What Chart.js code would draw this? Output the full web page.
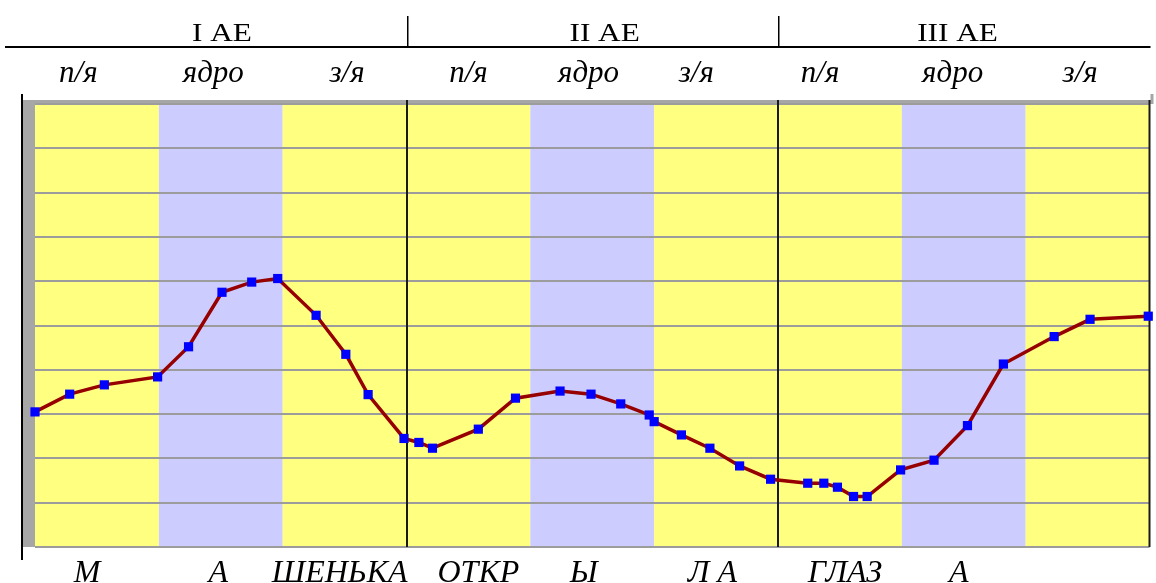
<!DOCTYPE html>
<html lang="ru">
  <head>
    <meta charset="UTF-8" />
    <title>Мелодический контур</title>
    <style>
      html, body {
        margin: 0;
        padding: 0;
        background: #ffffff;
        overflow: hidden;
      }
      .chart-box {
        position: relative;
        width: 1156px;
        height: 583px;
      }
    </style>
    <script src="https://cdn.jsdelivr.net/npm/chart.js"></script>
  </head>
  <body>
    <div class="chart-box">
      <canvas id="contour"></canvas>
    </div>

    <script>
      // Measurement positions along the phrase (one unit = one zone) and tone level
      const pointPos = [
        0, 0.28, 0.56, 0.99, 1.24, 1.51, 1.75, 1.96, 2.27, 2.51, 2.69, 2.98,
        3.1, 3.21, 3.58, 3.88, 4.24, 4.49, 4.73, 4.96, 5.0, 5.22, 5.45, 5.69,
        5.94, 6.24, 6.37, 6.48, 6.61, 6.72, 6.99, 7.26, 7.53, 7.82, 8.23, 8.52,
        8.99,
      ];
      const toneLevel = [
        3.05, 3.45, 3.66, 3.84, 4.52, 5.75, 5.98, 6.06, 5.23, 4.35, 3.44, 2.45,
        2.36, 2.23, 2.66, 3.36, 3.52, 3.45, 3.23, 2.98, 2.83, 2.53, 2.23, 1.83,
        1.53, 1.44, 1.44, 1.35, 1.14, 1.14, 1.74, 1.96, 2.74, 4.13, 4.75, 5.14,
        5.21,
      ];

      // Accent units and their zones
      const unitLabels = ["I АЕ", "II АЕ", "III АЕ"];
      const unitTicks = [1.51, 4.6, 7.45];
      const unitBounds = [3, 6];
      const zoneLabels = ["п/я", "ядро", "з/я", "п/я", "ядро", "з/я", "п/я", "ядро", "з/я"];
      const zoneTicks = [0.35, 1.44, 2.52, 3.5, 4.47, 5.34, 6.34, 7.41, 8.44];
      const nucleusZones = [1, 4, 7];

      // Syllables of the phrase under the curve
      const wordLabels = ["М", "А", "ШЕНЬКА", "ОТКР", "Ы", "Л А", "ГЛАЗ", "А"];
      const wordTicks = [0.42, 1.48, 2.46, 3.58, 4.43, 5.47, 6.54, 7.46];

      const YELLOW = "#ffff80";
      const LAVENDER = "#ccccff";

      // Zone backgrounds, the left wall and the frame of the plot
      const backdrop = {
        id: "backdrop",
        beforeDraw(chart) {
          const { ctx, chartArea: a, scales } = chart;
          const x = scales.x;
          ctx.save();
          ctx.fillStyle = "#ffffff";
          ctx.fillRect(0, 0, chart.width, chart.height);
          for (let i = 0; i < zoneLabels.length; i++) {
            const x0 = x.getPixelForValue(i);
            const x1 = x.getPixelForValue(i + 1);
            ctx.fillStyle = nucleusZones.includes(i) ? LAVENDER : YELLOW;
            ctx.fillRect(x0, a.top, x1 - x0, a.bottom - a.top);
          }
          // grey wall on the left and along the top
          ctx.fillStyle = "#a6a6a6";
          ctx.fillRect(a.left - 12, a.top - 4, 12, a.bottom - a.top + 4);
          ctx.fillRect(a.left - 12, a.top - 4, a.right - a.left + 14, 4);
          ctx.fillRect(a.right + 1, a.top - 10, 3, 10);
          // black axis line
          ctx.fillStyle = "#000000";
          ctx.fillRect(a.left - 14, a.top - 10, 2, a.bottom - a.top + 23);
          ctx.restore();
        },
        beforeDatasetsDraw(chart) {
          const { ctx, chartArea: a, scales } = chart;
          ctx.save();
          ctx.strokeStyle = "#1a1a1a";
          ctx.lineWidth = 2;
          ctx.beginPath();
          unitBounds.forEach((b) => {
            const px = Math.round(scales.x.getPixelForValue(b));
            ctx.moveTo(px, a.top - 4);
            ctx.lineTo(px, a.bottom);
          });
          ctx.moveTo(a.right, a.top - 4);
          ctx.lineTo(a.right, a.bottom);
          ctx.stroke();
          ctx.restore();
        },
      };

      // Header rows (accent units, zones) and syllables below the plot
      const captions = {
        id: "captions",
        afterDraw(chart) {
          const { ctx, chartArea: a, scales } = chart;
          const x = scales.x;
          ctx.save();
          ctx.fillStyle = "#000000";
          ctx.fillRect(5, 46, a.right - 4, 2);
          unitBounds.forEach((b) => {
            ctx.fillRect(Math.round(x.getPixelForValue(b)), 16, 1.5, 31);
          });

          ctx.textAlign = "center";
          ctx.textBaseline = "alphabetic";
          ctx.font = '25px "Liberation Serif"';
          unitLabels.forEach((t, i) => {
            ctx.save();
            ctx.translate(x.getPixelForValue(unitTicks[i]), 41);
            ctx.scale(1.25, 1);
            ctx.fillText(t, 0, 0);
            ctx.restore();
          });

          ctx.font = 'italic 31px "Liberation Serif"';
          zoneLabels.forEach((t, i) => {
            ctx.fillText(t, x.getPixelForValue(zoneTicks[i]), 82);
          });

          ctx.font = 'italic 32px "Liberation Serif"';
          wordLabels.forEach((t, i) => {
            ctx.fillText(t, x.getPixelForValue(wordTicks[i]), 582);
          });
          ctx.restore();
        },
      };

      const ctx = document.getElementById("contour").getContext("2d");
      new Chart(ctx, {
        type: "line",
        data: {
          datasets: [
            {
              data: pointPos.map((p, i) => ({ x: p, y: toneLevel[i] })),
              borderColor: "#960000",
              borderWidth: 3.5,
              tension: 0,
              pointStyle: "rect",
              pointRadius: 6.5,
              pointBackgroundColor: "#0000ff",
              pointBorderColor: "#0000ff",
              pointBorderWidth: 0,
              clip: false,
            },
          ],
        },
        options: {
          responsive: true,
          maintainAspectRatio: false,
          animation: false,
          events: [],
          layout: {
            padding: { left: 35, right: 4, top: 104, bottom: 36 },
          },
          plugins: {
            legend: { display: false },
            tooltip: { enabled: false },
          },
          scales: {
            x: {
              type: "linear",
              min: 0,
              max: zoneLabels.length,
              display: false,
            },
            y: {
              min: 0,
              max: 10,
              ticks: { display: false, stepSize: 1 },
              grid: {
                color: "#9c9c9c",
                lineWidth: 2,
                drawTicks: false,
              },
              border: { display: false },
            },
          },
        },
        plugins: [backdrop, captions],
      });
    </script>
  </body>
</html>
